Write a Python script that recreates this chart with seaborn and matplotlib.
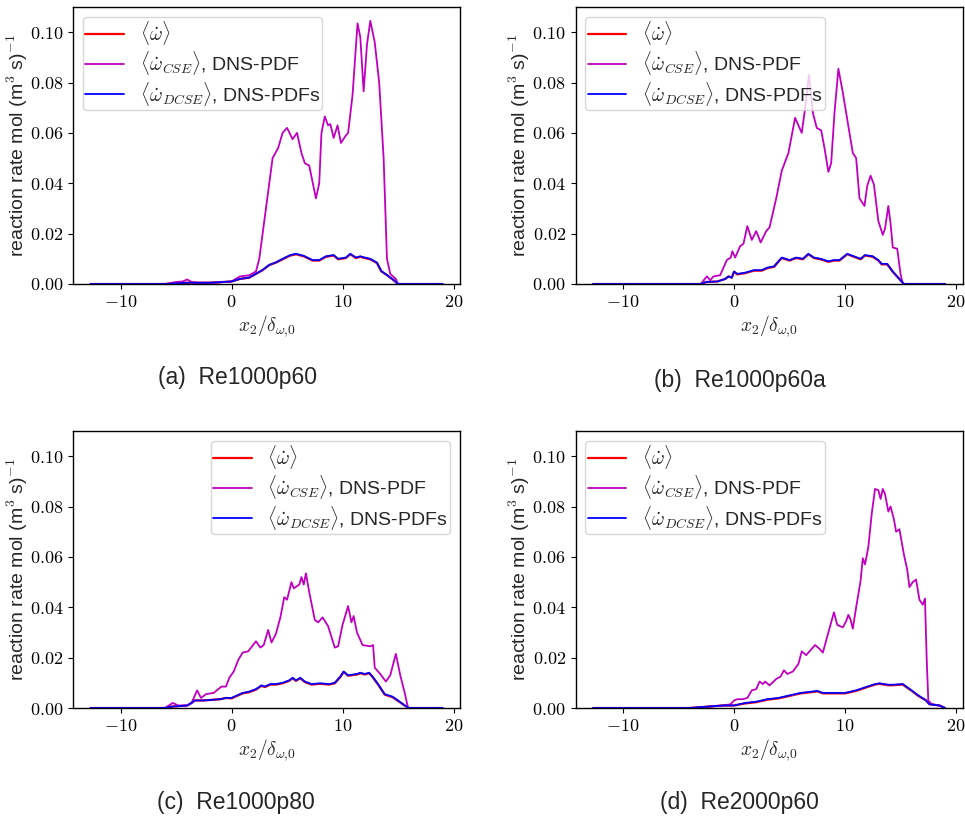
import numpy as np
import pandas as pd
import matplotlib
matplotlib.use("Agg")
import matplotlib.pyplot as plt
from matplotlib.ticker import FuncFormatter, FixedLocator
import seaborn as sns

# ---------------- data ----------------
# Panel (a) Re1000p60
a_cse_x = [-12.7, -6.0, -5.0, -4.4, -4.0, -3.6, -3.0, -1.5, 0.0, 0.75, 1.6, 2.2, 2.5, 3.1, 3.7, 4.2,
           4.6, 5.0, 5.5, 5.9, 6.3, 6.6, 7.0, 7.6, 7.9, 8.1, 8.4, 8.7, 8.9, 9.2, 9.55, 9.85, 10.3,
           10.5, 10.9, 11.35, 11.6, 11.9, 12.2, 12.5, 12.9, 13.3, 13.7, 14.0, 14.3, 14.8, 15.0, 19.0]
a_cse_y = [0.0, 0.0, 0.0008, 0.001, 0.0018, 0.0008, 0.0005, 0.0005, 0.001, 0.003, 0.0035, 0.005, 0.01,
           0.03, 0.05, 0.054, 0.06, 0.062, 0.0575, 0.06, 0.052, 0.048, 0.047, 0.034, 0.04, 0.06,
           0.0665, 0.063, 0.0635, 0.058, 0.063, 0.056, 0.059, 0.060, 0.075, 0.1035, 0.098, 0.0765,
           0.095, 0.1045, 0.096, 0.08, 0.05, 0.01, 0.004, 0.002, 0.0, 0.0]
a_mean_x = [-12.7, -6.0, -4.0, -2.0, 0.0, 0.75, 1.6, 2.2, 2.8, 3.4, 4.0, 4.6, 5.3, 5.8, 6.5, 7.3, 7.9,
            8.5, 9.2, 9.6, 10.3, 10.7, 11.2, 11.6, 12.0, 12.5, 13.1, 13.5, 14.0, 14.6, 15.0, 19.0]
a_mean_y = [0.0, 0.0, 0.0005, 0.0005, 0.001, 0.002, 0.0025, 0.004, 0.0055, 0.0075, 0.0085, 0.0098,
            0.0113, 0.0118, 0.011, 0.0093, 0.0093, 0.0108, 0.0113, 0.0098, 0.0103, 0.0118, 0.0103,
            0.0108, 0.0103, 0.0098, 0.0083, 0.005, 0.0035, 0.0015, 0.0, 0.0]
a_dcse_y = [0.0, 0.0, 0.0005, 0.0005, 0.001, 0.002, 0.0026, 0.0041, 0.0056, 0.0076, 0.0086, 0.0100,
            0.0115, 0.0120, 0.0112, 0.0095, 0.0095, 0.0110, 0.0115, 0.0100, 0.0105, 0.0120, 0.0105,
            0.0110, 0.0105, 0.0100, 0.0085, 0.0051, 0.0036, 0.0016, 0.0, 0.0]

# Panel (b) Re1000p60a
b_cse_x = [-12.7, -3.0, -2.45, -2.15, -1.85, -1.25, -0.65, -0.3, -0.15, 0.1, 0.55, 0.85, 1.2, 1.6,
           2.0, 2.4, 2.9, 3.2, 3.8, 4.3, 4.9, 5.5, 5.8, 6.1, 6.35, 6.75, 7.1, 7.45, 7.85, 8.15, 8.5,
           8.75, 9.05, 9.4, 9.8, 10.25, 10.7, 11.0, 11.3, 11.75, 12.0, 12.3, 12.6, 13.0, 13.4,
           13.6, 13.9, 14.1, 14.3, 14.7, 15.0, 15.2, 19.0]
b_cse_y = [0.0, 0.0, 0.003, 0.0015, 0.003, 0.0035, 0.0095, 0.0105, 0.013, 0.0105, 0.015, 0.016,
           0.023, 0.0175, 0.021, 0.0165, 0.021, 0.0225, 0.034, 0.045, 0.052, 0.066, 0.063, 0.06,
           0.068, 0.083, 0.068, 0.062, 0.061, 0.054, 0.0445, 0.048, 0.068, 0.0855, 0.076, 0.064,
           0.052, 0.050, 0.034, 0.031, 0.039, 0.043, 0.0395, 0.025, 0.0195, 0.022, 0.031, 0.024,
           0.0145, 0.014, 0.004, 0.0, 0.0]
b_mean_x = [-12.7, -3.0, -2.5, -1.5, -0.8, -0.5, -0.2, 0.0, 0.3, 1.0, 1.8, 2.5, 3.0, 3.6, 4.3, 5.0,
            5.6, 6.2, 6.7, 7.2, 7.8, 8.5, 9.0, 9.5, 10.2, 10.8, 11.4, 11.8, 12.5, 13.0, 13.3, 13.8,
            14.3, 14.8, 15.3, 19.0]
b_mean_y = [0.0, 0.0, 0.0008, 0.001, 0.002, 0.003, 0.0025, 0.0048, 0.0038, 0.0043, 0.0053, 0.0053,
            0.0063, 0.0068, 0.0103, 0.0093, 0.0103, 0.0098, 0.0118, 0.0103, 0.0098, 0.0088, 0.0093,
            0.0093, 0.0118, 0.0108, 0.0098, 0.0113, 0.0108, 0.0093, 0.0078, 0.0078, 0.0048, 0.0024,
            0.0, 0.0]
b_dcse_y = [0.0, 0.0, 0.0008, 0.001, 0.002, 0.003, 0.0025, 0.005, 0.004, 0.0045, 0.0055, 0.0055,
            0.0065, 0.007, 0.0105, 0.0095, 0.0105, 0.010, 0.012, 0.0105, 0.010, 0.009, 0.0095,
            0.0095, 0.012, 0.011, 0.010, 0.0115, 0.011, 0.0095, 0.008, 0.008, 0.005, 0.0025,
            0.0, 0.0]

# Panel (c) Re1000p80
c_cse_x = [-12.7, -6.0, -5.3, -4.8, -4.0, -3.6, -3.1, -2.75, -2.3, -1.6, -1.2, -0.9, -0.5, -0.2,
           0.2, 0.6, 1.0, 1.5, 2.2, 2.6, 2.9, 3.3, 3.6, 4.0, 4.4, 4.75, 5.0, 5.4, 5.6, 6.1, 6.3,
           6.5, 6.7, 7.0, 7.5, 7.8, 8.2, 8.7, 9.3, 9.6, 10.0, 10.5, 10.8, 11.0, 11.3, 11.8, 12.5,
           12.75, 12.9, 13.4, 13.9, 14.3, 14.8, 15.2, 15.6, 15.9, 19.0]
c_cse_y = [0.0, 0.0, 0.002, 0.001, 0.001, 0.002, 0.007, 0.004, 0.0055, 0.006, 0.0075, 0.0085,
           0.0085, 0.012, 0.0145, 0.019, 0.022, 0.0225, 0.0265, 0.024, 0.025, 0.031, 0.026,
           0.0295, 0.036, 0.044, 0.043, 0.050, 0.0475, 0.049, 0.052, 0.049, 0.0535, 0.046, 0.035,
           0.034, 0.036, 0.0325, 0.024, 0.0245, 0.033, 0.0405, 0.034, 0.0365, 0.030, 0.025,
           0.0245, 0.025, 0.016, 0.0135, 0.0105, 0.013, 0.0215, 0.013, 0.006, 0.0, 0.0]
c_mean_x = [-12.7, -6.0, -5.5, -4.0, -3.6, -3.3, -2.5, -1.0, -0.5, 0.0, 0.5, 1.0, 1.6, 2.2, 2.7,
            3.0, 3.5, 4.0, 4.6, 5.2, 5.5, 5.8, 6.2, 6.6, 7.2, 8.0, 8.8, 9.3, 9.8, 10.1, 10.5, 11.3,
            11.6, 12.0, 12.4, 12.7, 13.2, 13.8, 14.5, 15.0, 15.6, 16.0, 19.0]
c_mean_y = [0.0, 0.0, 0.0005, 0.001, 0.002, 0.003, 0.003, 0.0035, 0.004, 0.0038, 0.0048, 0.0058,
            0.0063, 0.0073, 0.0088, 0.0083, 0.0093, 0.0093, 0.0098, 0.0108, 0.0118, 0.0108,
            0.0118, 0.0103, 0.0093, 0.0096, 0.0093, 0.0098, 0.0123, 0.0143, 0.0128, 0.0133,
            0.0138, 0.0133, 0.0138, 0.0123, 0.0093, 0.0053, 0.0043, 0.0028, 0.001, 0.0, 0.0]
c_dcse_y = [0.0, 0.0, 0.0005, 0.001, 0.002, 0.003, 0.003, 0.0035, 0.004, 0.004, 0.005, 0.006,
            0.0065, 0.0075, 0.009, 0.0085, 0.0095, 0.0095, 0.010, 0.011, 0.012, 0.011, 0.012,
            0.0105, 0.0095, 0.0098, 0.0095, 0.010, 0.0125, 0.0145, 0.013, 0.0135, 0.014, 0.0135,
            0.014, 0.0125, 0.0095, 0.0055, 0.0045, 0.003, 0.001, 0.0, 0.0]

# Panel (d) Re2000p60
d_cse_x = [-12.7, -4.0, -3.0, -1.0, -0.3, 0.0, 0.3, 0.8, 1.2, 1.6, 2.0, 2.3, 2.6, 2.8, 3.2, 3.8,
           4.2, 4.5, 4.8, 5.3, 5.8, 6.1, 6.5, 7.0, 7.3, 7.7, 8.0, 8.5, 9.0, 9.3, 9.8, 10.1, 10.3,
           10.5, 10.7, 11.0, 11.4, 11.6, 11.8, 12.1, 12.4, 12.7, 13.0, 13.2, 13.4, 13.6, 13.9,
           14.1, 14.4, 14.6, 14.9, 15.3, 15.6, 15.8, 16.1, 16.4, 16.7, 17.0, 17.2, 17.35, 17.5,
           17.8, 18.5, 19.0]
d_cse_y = [0.0, 0.0, 0.0003, 0.001, 0.0015, 0.003, 0.0035, 0.0035, 0.004, 0.007, 0.0075, 0.0105,
           0.0095, 0.0105, 0.009, 0.0115, 0.0125, 0.015, 0.0135, 0.0145, 0.0175, 0.0225, 0.021,
           0.0235, 0.025, 0.0235, 0.022, 0.030, 0.038, 0.033, 0.032, 0.0345, 0.037, 0.035, 0.0315,
           0.040, 0.0505, 0.0595, 0.057, 0.064, 0.077, 0.087, 0.0865, 0.083, 0.087, 0.085, 0.078,
           0.080, 0.075, 0.070, 0.071, 0.061, 0.055, 0.048, 0.050, 0.051, 0.043, 0.041, 0.0435,
           0.02, 0.003, 0.0015, 0.001, 0.0]
d_mean_x = [-12.7, -4.0, -2.5, -1.0, 0.0, 1.0, 2.0, 3.0, 4.0, 5.0, 6.0, 7.0, 7.5, 8.0, 9.0, 10.0,
            10.5, 11.0, 12.0, 12.7, 13.1, 13.5, 14.0, 14.5, 15.2, 16.0, 16.6, 17.3, 17.6, 18.5, 19.0]
d_mean_y = [0.0, 0.0, 0.0005, 0.001, 0.001, 0.0018, 0.0023, 0.0033, 0.0038, 0.0048, 0.0058,
            0.0063, 0.0066, 0.0058, 0.0058, 0.0058, 0.0063, 0.0068, 0.0083, 0.0093, 0.0096,
            0.0093, 0.009, 0.0091, 0.0093, 0.0068, 0.0048, 0.003, 0.0015, 0.001, 0.0]
d_dcse_y = [0.0, 0.0, 0.0005, 0.001, 0.001, 0.002, 0.0025, 0.0035, 0.004, 0.005, 0.006, 0.0065,
            0.0068, 0.006, 0.006, 0.006, 0.0065, 0.007, 0.0085, 0.0095, 0.0098, 0.0095, 0.0092,
            0.0093, 0.0095, 0.007, 0.005, 0.003, 0.0015, 0.001, 0.0]

captions = ["(a)  Re1000p60", "(b)  Re1000p60a", "(c)  Re1000p80", "(d)  Re2000p60"]
legend_locs = ["upper left", "upper left", "upper right", "upper left"]
labels = [r"$\langle\dot{\omega}\rangle$",
          r"$\langle\dot{\omega}_{CSE}\rangle$, DNS-PDF",
          r"$\langle\dot{\omega}_{DCSE}\rangle$, DNS-PDFs"]
xticks = [-10, 0, 10, 20]
yticks = [0.00, 0.02, 0.04, 0.06, 0.08, 0.10]

panels = [
    (a_cse_x, a_cse_y, a_mean_x, a_mean_y, a_dcse_y),
    (b_cse_x, b_cse_y, b_mean_x, b_mean_y, b_dcse_y),
    (c_cse_x, c_cse_y, c_mean_x, c_mean_y, c_dcse_y),
    (d_cse_x, d_cse_y, d_mean_x, d_mean_y, d_dcse_y),
]

# ---------------- style ----------------
sns.set_style("ticks")
plt.rcParams["font.family"] = ["Liberation Sans", "DejaVu Sans"]
plt.rcParams["mathtext.fontset"] = "cm"
plt.rcParams["axes.linewidth"] = 1.0
plt.rcParams["xtick.direction"] = "out"
plt.rcParams["ytick.direction"] = "out"
plt.rcParams["axes.edgecolor"] = "black"

W, H = 965, 821
fig = plt.figure(figsize=(W / 100, H / 100), dpi=100)

# axes boxes in pixels: (left, top, right, bottom)
boxes = [(73, 7, 460, 284), (575.5, 7, 962.5, 284), (73, 431, 460, 708), (575.5, 431, 962.5, 708)]
cap_pos = [(237, 377), (740, 380), (236, 802), (739, 802)]

for i, (cx, cy, mx, my, dy) in enumerate(panels):
    l, t, r, b = boxes[i]
    ax = fig.add_axes([l / W, 1 - b / H, (r - l) / W, (b - t) / H])
    sns.lineplot(x=mx, y=my, ax=ax, color="#ff0000", lw=1.6, label=labels[0])
    sns.lineplot(x=cx, y=cy, ax=ax, color="#bf00bf", lw=1.3, label=labels[1])
    sns.lineplot(x=mx, y=dy, ax=ax, color="#0000ff", lw=1.3, label=labels[2])
    ax.set_ylim(0, 0.11)
    ax.set_xlim(-14.28, 20.58)
    ax.xaxis.set_major_locator(FixedLocator(xticks))
    ax.yaxis.set_major_locator(FixedLocator(yticks))
    ax.xaxis.set_major_formatter(FuncFormatter(lambda v, p: r"$%d$" % v if v >= 0 else r"$-%d$" % (-v)))
    ax.yaxis.set_major_formatter(FuncFormatter(lambda v, p: r"$%.2f$" % v))
    ax.tick_params(labelsize=13, length=3.5, width=0.8, colors="black")
    for s in ax.spines.values():
        s.set_visible(True)
        s.set_color("black")
    ax.set_xlabel(r"$x_2/\delta_{\omega{,}0}$", fontsize=14, labelpad=2)
    ax.set_ylabel(r"reaction rate mol (m$^3$ s)$^{-1}$", fontsize=14)
    ax.yaxis.set_label_coords(-43.0 / (r - l), 0.5)
    leg = ax.legend(loc=legend_locs[i], fontsize=14, frameon=True, handlelength=2.0,
                    borderpad=0.12, labelspacing=0.12, handletextpad=0.8)
    leg.get_frame().set_edgecolor("#cccccc")
    leg.get_frame().set_alpha(0.8)
    x0, y0 = cap_pos[i]
    fig.text(x0 / W, 1 - y0 / H, captions[i], ha="center", va="center", fontsize=16.5)

fig.savefig("out.png", dpi=100)
